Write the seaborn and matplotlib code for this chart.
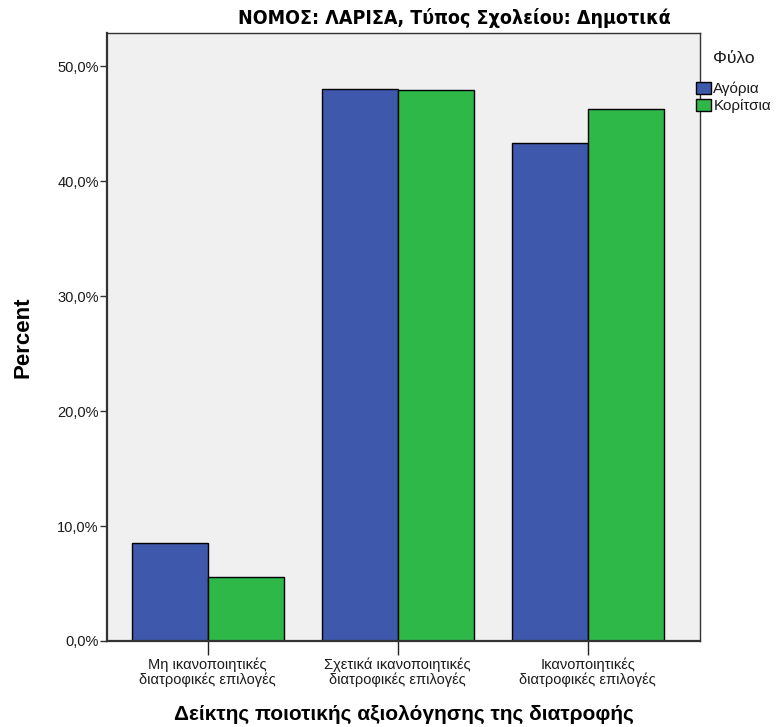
import matplotlib
matplotlib.use("Agg")
import matplotlib.pyplot as plt
import seaborn as sns
import pandas as pd
from matplotlib.ticker import FuncFormatter

categories = ["Μη ικανοποιητικές\nδιατροφικές επιλογές",
              "Σχετικά ικανοποιητικές\nδιατροφικές επιλογές",
              "Ικανοποιητικές\nδιατροφικές επιλογές"]
boys = [8.5, 48.0, 43.3]
girls = [5.6, 47.9, 46.3]
series_names = ["Αγόρια", "Κορίτσια"]
colors = ["#3E58AC", "#2EB848"]
yticks = [0, 10, 20, 30, 40, 50]

df = pd.DataFrame({
    "cat": categories * 2,
    "val": boys + girls,
    "sex": [series_names[0]] * 3 + [series_names[1]] * 3,
})

sns.set_theme(style="white")
plt.rcParams["font.family"] = ["Liberation Sans", "DejaVu Sans"]
plt.rcParams["text.color"] = "black"

fig = plt.figure(figsize=(7.76, 7.27), dpi=100)
ax = fig.add_axes([107/776, 1-641/727, 593/776, (641-33)/727])
ax.set_facecolor("#F0F0F0")

sns.barplot(data=df, x="cat", y="val", hue="sex", palette=colors,
            width=0.8, edgecolor="black", linewidth=1.0, ax=ax, legend=True,
            saturation=1)

ax.set_xlim(-0.53, 2.59)
ax.set_ylim(0, 52.9)
ax.set_yticks(yticks)
ax.yaxis.set_major_formatter(FuncFormatter(lambda v, p: f"{v:.1f}".replace(".", ",") + "%"))
ax.tick_params(axis="y", direction="out", length=5, width=1, color="#333333",
               labelsize=10.5, labelcolor="#1a1a1a", left=True, pad=1)
ax.tick_params(axis="x", direction="out", length=10, width=1, color="#222222",
               labelsize=10.5, labelcolor="#1a1a1a", bottom=True, pad=2)
for lab in ax.get_xticklabels():
    lab.set_linespacing(1.0)
for s in ax.spines.values():
    s.set_color("#333333")
    s.set_linewidth(1.0)
ax.spines["left"].set_linewidth(1.6)
ax.spines["bottom"].set_linewidth(1.6)

ax.set_xlabel("Δείκτης ποιοτικής αξιολόγησης της διατροφής", fontsize=15,
              fontweight="bold", labelpad=13, color="black")
ax.set_ylabel("Percent", fontsize=16, fontweight="bold", labelpad=17, color="black")

fig.text(454/776, 1-18/727, "ΝΟΜΟΣ: ΛΑΡΙΣΑ, Τύπος Σχολείου: Δημοτικά",
         ha="center", va="center", fontsize=14, fontweight="bold",
         fontstretch="condensed", color="black",
         family=["DejaVu Sans"])

leg = ax.legend(title="Φύλο", loc="upper left", bbox_to_anchor=(0.993, 0.970),
                frameon=False, fontsize=11, title_fontsize=12.5,
                handlelength=1.0, handleheight=0.85, handletextpad=0.15,
                labelspacing=0.18, borderaxespad=0.0, borderpad=0.0)
leg._legend_box.sep = 11
leg.get_title().set_color("#1a1a1a")
for t in leg.get_texts():
    t.set_color("#1a1a1a")

fig.savefig("out.png", dpi=100)
